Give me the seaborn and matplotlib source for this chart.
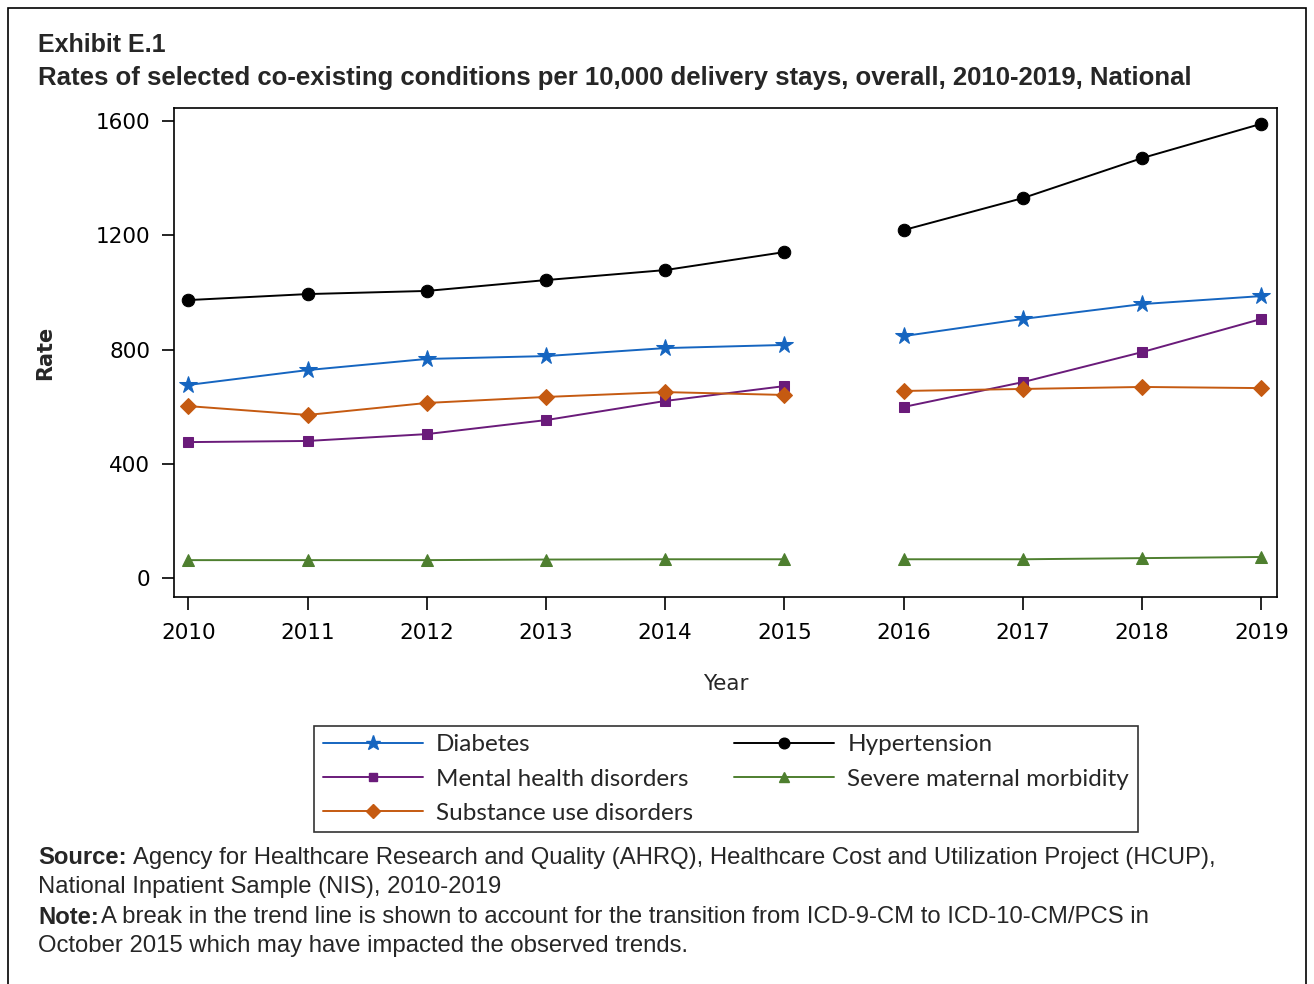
import pandas as pd
import matplotlib
matplotlib.use("Agg")
import matplotlib.pyplot as plt
from matplotlib.lines import Line2D
from matplotlib.patches import Rectangle
import seaborn as sns

# data
years = [2010, 2011, 2012, 2013, 2014, 2015, 2016, 2017, 2018, 2019]
periods = ["ICD-9", "ICD-9", "ICD-9", "ICD-9", "ICD-9", "ICD-9",
           "ICD-10", "ICD-10", "ICD-10", "ICD-10"]
diabetes = [676, 728, 767, 777, 805, 816, 847, 907, 959, 987]
hypertension = [973, 994, 1005, 1043, 1078, 1141, 1218, 1330, 1470, 1590]
mental_health = [476, 480, 504, 553, 620, 672, 599, 686, 791, 907]
severe_morbidity = [63, 63, 63, 65, 66, 66, 66, 66, 70, 74]
substance_use = [602, 571, 613, 634, 651, 641, 655, 662, 669, 665]

conditions = ["Diabetes", "Hypertension", "Mental health disorders",
              "Severe maternal morbidity", "Substance use disorders"]
series = [diabetes, hypertension, mental_health, severe_morbidity, substance_use]

styles = {
    "Diabetes": dict(color="#1565C0", marker="*", markersize=13),
    "Hypertension": dict(color="black", marker="o", markersize=9),
    "Mental health disorders": dict(color="#6A1B7A", marker="s", markersize=7),
    "Severe maternal morbidity": dict(color="#4E7F2F", marker="^", markersize=9),
    "Substance use disorders": dict(color="#C55A11", marker="D", markersize=8),
}

rows = []
for name, vals in zip(conditions, series):
    for yr, per, v in zip(years, periods, vals):
        rows.append({"condition": name, "year": yr, "period": per, "rate": v})
df = pd.DataFrame(rows)

sns.set_style("white")
plt.rcParams["font.family"] = ["DejaVu Sans"]

fig = plt.figure(figsize=(13.14, 9.84), dpi=100)
ax = fig.add_axes([0.1324, 0.3933, 0.8394, 0.4969])

for name in conditions:
    st = styles[name]
    sub = df[df["condition"] == name]
    sns.lineplot(data=sub, x="year", y="rate", units="period", estimator=None,
                 color=st["color"], marker=st["marker"], markersize=st["markersize"],
                 markeredgecolor=st["color"], linewidth=1.4, ax=ax, legend=False)

ax.set_xlim(2009.88, 2019.13)
ax.set_ylim(-66, 1645)
ax.set_xticks(years)
ax.set_yticks([0, 400, 800, 1200, 1600])
ax.tick_params(axis="both", direction="out", length=9, width=1.2, colors="black",
               labelsize=15.5, left=True, bottom=True)
ax.tick_params(axis="x", pad=10)
ax.tick_params(axis="y", pad=8)
for sp in ax.spines.values():
    sp.set_color("black")
    sp.set_linewidth(1.2)
ax.set_xlabel("Year", fontsize=15.5, labelpad=22)
ax.set_ylabel("Rate", fontsize=15, fontweight="bold", labelpad=29)

# legend, ordered so rows read Diabetes/Hypertension, Mental/Severe, Substance
leg_order = ["Diabetes", "Mental health disorders", "Substance use disorders",
             "Hypertension", "Severe maternal morbidity"]
handles = [Line2D([], [], color=styles[n]["color"], marker=styles[n]["marker"],
                  markersize=styles[n]["markersize"] * 0.85, linewidth=1.4)
           for n in leg_order]
leg = fig.legend(handles, leg_order, loc="center", bbox_to_anchor=(0.5525, 0.2083),
                 ncol=2, frameon=True, fancybox=False, edgecolor="black",
                 prop={"family": ["Lato", "DejaVu Sans"], "size": 17.5},
                 handlelength=4.1, handletextpad=0.55, columnspacing=1.7,
                 labelspacing=0.55, borderpad=0.35, borderaxespad=0)
leg.get_frame().set_linewidth(1.2)

# titles
fig.text(38 / 1314, 1 - 45 / 984, "Exhibit E.1", fontsize=18, fontweight="bold",
         family=["Liberation Sans", "DejaVu Sans"], va="center", ha="left")
fig.text(38 / 1314, 1 - 78 / 984,
         "Rates of selected co-existing conditions per 10,000 delivery stays, overall, 2010-2019, National",
         fontsize=18.5, fontweight="bold", family=["Liberation Sans", "DejaVu Sans"],
         va="center", ha="left")

# source & note
narrow = ["Liberation Sans Narrow", "Liberation Sans", "DejaVu Sans"]
renderer = fig.canvas.get_renderer()
notes = [
    (858, "Source:", "Agency for Healthcare Research and Quality (AHRQ), Healthcare Cost and Utilization Project (HCUP),"),
    (887, "", "National Inpatient Sample (NIS), 2010-2019"),
    (917, "Note:", "A break in the trend line is shown to account for the transition from ICD-9-CM to ICD-10-CM/PCS in"),
    (946, "", "October 2015 which may have impacted the observed trends."),
]
for ypix, bold, rest in notes:
    x0 = 38 / 1314
    if bold:
        t = fig.text(x0, 1 - ypix / 984, bold, fontsize=17.2, fontweight="bold",
                     family=narrow, va="center", ha="left")
        bb = t.get_window_extent(renderer=renderer)
        x0 = (bb.x1 + (6 if bold == "Source:" else 2)) / 1314
    fig.text(x0, 1 - ypix / 984, rest, fontsize=17.2, family=narrow,
             va="center", ha="left")

# outer border
fig.patches.append(Rectangle((8 / 1314, -0.02), 1298 / 1314, 1 - 8 / 984 + 0.02,
                             transform=fig.transFigure, fill=False,
                             edgecolor="black", linewidth=1.2))

fig.savefig("out.png", dpi=100)
